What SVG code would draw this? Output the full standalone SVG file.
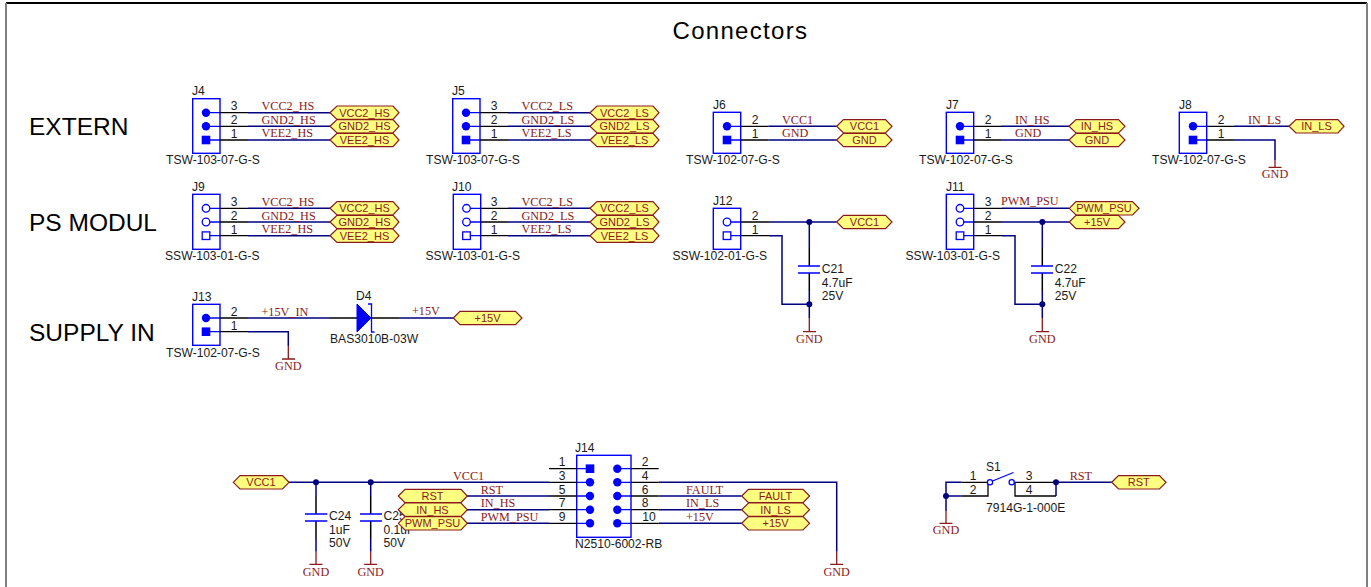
<svg xmlns="http://www.w3.org/2000/svg" width="1371" height="587" viewBox="0 0 1371 587">
<style>
text{font-family:"Liberation Sans",Arial,sans-serif;font-size:12.1px;fill:#1a1a1a}
.h{font-size:24.5px;fill:#000}
.t{font-size:24px;fill:#000;letter-spacing:1.3px}
.n{font-family:"Liberation Serif","Times New Roman",serif;font-size:12.2px;fill:#8b1a1a}
.p{font-size:11px;fill:#8b1a1a;text-anchor:middle}
.c{text-anchor:middle}
.box{fill:#fff;stroke:#0000ff;stroke-width:1.4}
.w,.wires path{fill:none;stroke:#000080;stroke-width:1.5}
.k{fill:none;stroke:#000;stroke-width:1.3}
.b{fill:none;stroke:#0000ff;stroke-width:1.3}
.r{fill:none;stroke:#8b1a1a;stroke-width:1.3}
.pf{fill:#0000ff}
.po{fill:#fff;stroke:#0000ff;stroke-width:1.3}
.port polygon{fill:#ffff80;stroke:#8b1a1a;stroke-width:1.2}
.j{fill:#000080}
.frame{fill:none;stroke-width:2}
</style>
<g id="frame">
<path class="frame" stroke="#000" d="M6 3H1367"/>
<path class="frame" stroke="#808080" d="M6 3V587M1367 3V587"/>
</g>
<g id="titles">
<text class="t" x="672.5" y="39">Connectors</text>
<text class="h" x="29" y="135">EXTERN</text>
<text class="h" x="29" y="231">PS MODUL</text>
<text class="h" x="29" y="341">SUPPLY IN</text>
</g>

<g class="wires" id="connectors">
<path d="M248 112.7H330M248 126.3H330M248 140H330"/>
<path d="M508 112.7H590M508 126.3H590M508 140H590"/>
<path d="M768.3 126.3H836.7M768.3 140H836.7"/>
<path d="M1001 126.3H1069M1001 140H1069"/>
<path d="M1234 126.3H1289M1234 140H1275V160"/>
<path d="M248 208.3H330M248 222H330M248 235.7H330"/>
<path d="M508 208.3H590M508 222H590M508 235.7H590"/>
<path d="M769 222H836.7M769 235.7H782V304.3H809.3M809.3 222V248M809.3 291V318"/>
<path d="M1002 208.3H1069M1002 222H1069M1002 235.7H1015V304.3H1042.3M1042.3 222V248M1042.3 291V318"/>
<path d="M248 318H329M248 331.7H288.3V346M399 318H453.3"/>
<path d="M289 482.3H549M316 482.3V496M316 539V551.7M370.7 482.3V496M370.7 539V551.7"/>
<path d="M467 496H549M467 509.7H549M467 523.3H549"/>
<path d="M658.7 482.3H836.7V551.7M658.7 496H741.7M658.7 509.7H741.7M658.7 523.3H741.7"/>
<path d="M961.7 482.3H946V511M961.7 496H946"/>
<path d="M1056 482.3H1111.7M1056 482.3V496"/>
<path d="M329 318H357M371 318H399" style="stroke:#000"/>
<path d="M809.3 248V266M809.3 273V291M1042.3 248V266M1042.3 273V291" style="stroke:#000"/>
<path d="M316 496V514M316 521V539M370.7 496V514M370.7 521V539" style="stroke:#000"/>
</g>

<g id="J4">
<rect class="box" x="192.7" y="98.7" width="27.3" height="54.6"/>
<path class="b" d="M206 112.7H220M206 126.3H220M206 140H220"/>
<path class="k" d="M220 112.7H248M220 126.3H248M220 140H248"/>
<circle class="pf" cx="206" cy="112.7" r="4.2"/><circle class="pf" cx="206" cy="126.3" r="4.2"/><rect class="pf" x="201.7" y="135.7" width="8.6" height="8.6"/>
<text x="192" y="95">J4</text><text x="166" y="164">TSW-103-07-G-S</text>
<text class="c" x="234" y="110">3</text><text class="c" x="234" y="124">2</text><text class="c" x="234" y="138">1</text>
<text class="n" x="261.5" y="110">VCC2_HS</text><text class="n" x="261.5" y="124">GND2_HS</text><text class="n" x="261.5" y="137">VEE2_HS</text>
</g>
<g id="J5">
<rect class="box" x="452.7" y="98.7" width="27.3" height="54.6"/>
<path class="b" d="M466 112.7H480M466 126.3H480M466 140H480"/>
<path class="k" d="M480 112.7H508M480 126.3H508M480 140H508"/>
<circle class="pf" cx="466" cy="112.7" r="4.2"/><circle class="pf" cx="466" cy="126.3" r="4.2"/><rect class="pf" x="461.7" y="135.7" width="8.6" height="8.6"/>
<text x="452" y="95">J5</text><text x="426" y="164">TSW-103-07-G-S</text>
<text class="c" x="494" y="110">3</text><text class="c" x="494" y="124">2</text><text class="c" x="494" y="138">1</text>
<text class="n" x="521.5" y="110">VCC2_LS</text><text class="n" x="521.5" y="124">GND2_LS</text><text class="n" x="521.5" y="137">VEE2_LS</text>
</g>
<g id="J6">
<rect class="box" x="713.3" y="112.3" width="27.4" height="41"/>
<path class="b" d="M727 126.3H740.7M727 140H740.7"/>
<path class="k" d="M740.7 126.3H768.3M740.7 140H768.3"/>
<circle class="pf" cx="727" cy="126.3" r="4.2"/><rect class="pf" x="722.7" y="135.7" width="8.6" height="8.6"/>
<text x="713" y="109">J6</text><text x="686" y="164">TSW-102-07-G-S</text>
<text class="c" x="755" y="124">2</text><text class="c" x="755" y="138">1</text>
<text class="n" x="782" y="124">VCC1</text><text class="n" x="782" y="137">GND</text>
</g>
<g id="J7">
<rect class="box" x="946.3" y="112.3" width="27.4" height="41"/>
<path class="b" d="M960 126.3H973.7M960 140H973.7"/>
<path class="k" d="M973.7 126.3H1001M973.7 140H1001"/>
<circle class="pf" cx="960" cy="126.3" r="4.2"/><rect class="pf" x="955.7" y="135.7" width="8.6" height="8.6"/>
<text x="946" y="109">J7</text><text x="919" y="164">TSW-102-07-G-S</text>
<text class="c" x="988" y="124">2</text><text class="c" x="988" y="138">1</text>
<text class="n" x="1015" y="124">IN_HS</text><text class="n" x="1015" y="137">GND</text>
</g>
<g id="J8">
<rect class="box" x="1179.3" y="112.3" width="27.4" height="41"/>
<path class="b" d="M1193 126.3H1206.7M1193 140H1206.7"/>
<path class="k" d="M1206.7 126.3H1234M1206.7 140H1234"/>
<circle class="pf" cx="1193" cy="126.3" r="4.2"/><rect class="pf" x="1188.7" y="135.7" width="8.6" height="8.6"/>
<text x="1179" y="109">J8</text><text x="1152" y="164">TSW-102-07-G-S</text>
<text class="c" x="1221" y="124">2</text><text class="c" x="1221" y="138">1</text>
<text class="n" x="1248" y="124">IN_LS</text>
</g>
<g id="J9">
<rect class="box" x="192.7" y="194.3" width="27.3" height="55"/>
<path class="b" d="M210 208.3H220M210 222H220M210 235.7H220"/>
<path class="k" d="M220 208.3H248M220 222H248M220 235.7H248"/>
<circle class="po" cx="206" cy="208.3" r="3.8"/><circle class="po" cx="206" cy="222" r="3.8"/><rect class="po" x="202.2" y="231.9" width="7.6" height="7.6"/>
<text x="192" y="191">J9</text><text x="165" y="260">SSW-103-01-G-S</text>
<text class="c" x="234" y="206">3</text><text class="c" x="234" y="220">2</text><text class="c" x="234" y="234">1</text>
<text class="n" x="261.5" y="206">VCC2_HS</text><text class="n" x="261.5" y="220">GND2_HS</text><text class="n" x="261.5" y="233">VEE2_HS</text>
</g>
<g id="J10">
<rect class="box" x="453.3" y="194.3" width="27.4" height="55"/>
<path class="b" d="M470 208.3H480.7M470 222H480.7M470 235.7H480.7"/>
<path class="k" d="M480.7 208.3H508M480.7 222H508M480.7 235.7H508"/>
<circle class="po" cx="466.5" cy="208.3" r="3.8"/><circle class="po" cx="466.5" cy="222" r="3.8"/><rect class="po" x="462.7" y="231.9" width="7.6" height="7.6"/>
<text x="452" y="191">J10</text><text x="425.5" y="260">SSW-103-01-G-S</text>
<text class="c" x="494" y="206">3</text><text class="c" x="494" y="220">2</text><text class="c" x="494" y="234">1</text>
<text class="n" x="521.5" y="206">VCC2_LS</text><text class="n" x="521.5" y="220">GND2_LS</text><text class="n" x="521.5" y="233">VEE2_LS</text>
</g>
<g id="J12">
<rect class="box" x="713.3" y="208.3" width="27.4" height="41"/>
<path class="b" d="M731 222H740.7M731 235.7H740.7"/>
<path class="k" d="M740.7 222H769M740.7 235.7H769"/>
<circle class="po" cx="727" cy="222" r="3.8"/><rect class="po" x="723.2" y="231.9" width="7.6" height="7.6"/>
<text x="713" y="205">J12</text><text x="672.5" y="260">SSW-102-01-G-S</text>
<text class="c" x="755" y="220">2</text><text class="c" x="755" y="234">1</text>
</g>
<g id="J11">
<rect class="box" x="946.3" y="194.3" width="27.4" height="55"/>
<path class="b" d="M964 208.3H973.7M964 222H973.7M964 235.7H973.7"/>
<path class="k" d="M973.7 208.3H1002M973.7 222H1002M973.7 235.7H1002"/>
<circle class="po" cx="960" cy="208.3" r="3.8"/><circle class="po" cx="960" cy="222" r="3.8"/><rect class="po" x="956.2" y="231.9" width="7.6" height="7.6"/>
<text x="946" y="191">J11</text><text x="905.5" y="260">SSW-103-01-G-S</text>
<text class="c" x="988" y="206">3</text><text class="c" x="988" y="220">2</text><text class="c" x="988" y="234">1</text>
<text class="n" x="1001" y="205">PWM_PSU</text>
</g>
<g id="J13">
<rect class="box" x="192.7" y="304.3" width="27.3" height="41"/>
<path class="b" d="M206 318H220M206 331.7H220"/>
<path class="k" d="M220 318H248M220 331.7H248"/>
<circle class="pf" cx="206" cy="318" r="4.2"/><rect class="pf" x="201.7" y="327.4" width="8.6" height="8.6"/>
<text x="192" y="301">J13</text><text x="166" y="357">TSW-102-07-G-S</text>
<text class="c" x="234" y="316">2</text><text class="c" x="234" y="330">1</text>
<text class="n" x="261.5" y="316">+15V_IN</text>
</g>
<g id="D4">
<polygon points="357,304 371,318 357,332" fill="#0000ff" stroke="#0000ff"/>
<path class="b" d="M368 304H371.5V332H374.5"/>
<text x="356" y="300">D4</text><text x="330" y="343">BAS3010B-03W</text>
<text class="n" x="412" y="315">+15V</text>
</g>
<g id="C21">
<path d="M798 266H820M798 273H820" fill="none" stroke="#0000ff" stroke-width="1.5"/>
<text x="821.7" y="273">C21</text><text x="821.7" y="286.5">4.7uF</text><text x="821.7" y="299.5">25V</text>
</g>
<g id="C22">
<path d="M1031 266H1053M1031 273H1053" fill="none" stroke="#0000ff" stroke-width="1.5"/>
<text x="1054.7" y="273">C22</text><text x="1054.7" y="286.5">4.7uF</text><text x="1054.7" y="299.5">25V</text>
</g>
<g id="C24">
<path d="M305 514H327.3M305 521H327.3" fill="none" stroke="#0000ff" stroke-width="1.5"/>
<text x="329" y="520">C24</text><text x="329" y="533.5">1uF</text><text x="329" y="547">50V</text>
</g>
<g id="C25">
<path d="M360 514H382M360 521H382" fill="none" stroke="#0000ff" stroke-width="1.5"/>
<text x="383.5" y="520">C25</text><text x="383.5" y="533.5">0.1uF</text><text x="383.5" y="547">50V</text>
</g>
<g id="J14">
<rect class="box" x="576.7" y="455.3" width="54.3" height="82"/>
<path class="b" d="M590 468.7H576.7M590 482.3H576.7M590 496H576.7M590 509.7H576.7M590 523.3H576.7M617.3 468.7H631M617.3 482.3H631M617.3 496H631M617.3 509.7H631M617.3 523.3H631"/>
<path class="k" d="M549 468.7H576.7M549 482.3H576.7M549 496H576.7M549 509.7H576.7M549 523.3H576.7M631 468.7H658.7M631 482.3H658.7M631 496H658.7M631 509.7H658.7M631 523.3H658.7"/>
<rect class="pf" x="585.7" y="464.4" width="8.6" height="8.6"/>
<circle class="pf" cx="590" cy="482.3" r="4.2"/><circle class="pf" cx="590" cy="496" r="4.2"/><circle class="pf" cx="590" cy="509.7" r="4.2"/><circle class="pf" cx="590" cy="523.3" r="4.2"/>
<circle class="pf" cx="617.3" cy="468.7" r="4.2"/><circle class="pf" cx="617.3" cy="482.3" r="4.2"/><circle class="pf" cx="617.3" cy="496" r="4.2"/><circle class="pf" cx="617.3" cy="509.7" r="4.2"/><circle class="pf" cx="617.3" cy="523.3" r="4.2"/>
<text x="575" y="452">J14</text><text x="575" y="548">N2510-6002-RB</text>
<text class="c" x="562" y="466">1</text><text class="c" x="562" y="480">3</text><text class="c" x="562" y="493.5">5</text><text class="c" x="562" y="507">7</text><text class="c" x="562" y="520.5">9</text>
<text class="c" x="645" y="466">2</text><text class="c" x="645" y="480">4</text><text class="c" x="645" y="493.5">6</text><text class="c" x="645" y="507">8</text><text class="c" x="649" y="520.5">10</text>
</g>
<g id="S1">
<path class="k" d="M961.7 482.3H987M961.7 496H988V482.3M1015 482.3V496H1056M1015 482.3H1056"/>
<path class="b" d="M992.5 481L1013.5 472.5"/>
<circle class="po" cx="990" cy="482.3" r="2.6"/><circle class="po" cx="1011.7" cy="482.3" r="2.6"/>
<text x="986" y="471">S1</text><text x="986" y="512">7914G-1-000E</text>
<text class="c" x="973" y="480">1</text><text class="c" x="973" y="494">2</text><text class="c" x="1029" y="480">3</text><text class="c" x="1029" y="494">4</text>
</g>
<g id="net-labels">
<text class="n" x="453" y="480">VCC1</text>
<text class="n" x="480.7" y="494">RST</text><text class="n" x="480.7" y="507">IN_HS</text><text class="n" x="480.7" y="521">PWM_PSU</text>
<text class="n" x="686" y="494">FAULT</text><text class="n" x="686" y="507">IN_LS</text><text class="n" x="686" y="521">+15V</text>
<text class="n" x="1069.7" y="480">RST</text>
</g>
<g id="junctions">
<circle class="j" cx="809.3" cy="222" r="3"/><circle class="j" cx="809.3" cy="304.3" r="3"/>
<circle class="j" cx="1042.3" cy="222" r="3"/><circle class="j" cx="1042.3" cy="304.3" r="3"/>
<circle class="j" cx="316" cy="482.3" r="3"/><circle class="j" cx="370.7" cy="482.3" r="3"/>
<circle class="j" cx="946" cy="496" r="3"/><circle class="j" cx="1056" cy="482.3" r="3"/>
</g>
<g id="gnd">
<g id="gnd-J8"><path class="r" d="M1275 160V167.3M1268.5 167.3H1281.5"/><text class="n c" x="1275" y="178">GND</text></g>
<g id="gnd-J13"><path class="r" d="M288.3 346V359M282 359H295"/><text class="n c" x="288.3" y="370">GND</text></g>
<g id="gnd-C21"><path class="r" d="M809.3 318V331.7M803 331.7H816"/><text class="n c" x="809.3" y="342.5">GND</text></g>
<g id="gnd-C22"><path class="r" d="M1042.3 318V331.7M1036 331.7H1049"/><text class="n c" x="1042.3" y="342.5">GND</text></g>
<g id="gnd-C24"><path class="r" d="M316 551.7V564.3M309.5 564.3H322.5"/><text class="n c" x="316" y="576">GND</text></g>
<g id="gnd-C25"><path class="r" d="M370.7 551.7V564.3M364.2 564.3H377.2"/><text class="n c" x="370.7" y="576">GND</text></g>
<g id="gnd-J14"><path class="r" d="M836.7 551.7V564.3M830.2 564.3H843.2"/><text class="n c" x="836.7" y="576">GND</text></g>
<g id="gnd-S1"><path class="r" d="M946 511V523.3M939.5 523.3H952.5"/><text class="n c" x="946" y="534">GND</text></g>
</g>
<g id="ports">
<g class="port" id="p1"><polygon points="330,112.7 337,106 393,106 399,112.7 393,119.4 337,119.4"/><text class="p" x="364.5" y="116.7">VCC2_HS</text></g>
<g class="port" id="p2"><polygon points="330,126.3 337,119.6 393,119.6 399,126.3 393,133 337,133"/><text class="p" x="364.5" y="130.3">GND2_HS</text></g>
<g class="port" id="p3"><polygon points="330,140 337,133.3 393,133.3 399,140 393,146.7 337,146.7"/><text class="p" x="364.5" y="144">VEE2_HS</text></g>
<g class="port" id="p4"><polygon points="590,112.7 597,106 653,106 659,112.7 653,119.4 597,119.4"/><text class="p" x="624.5" y="116.7">VCC2_LS</text></g>
<g class="port" id="p5"><polygon points="590,126.3 597,119.6 653,119.6 659,126.3 653,133 597,133"/><text class="p" x="624.5" y="130.3">GND2_LS</text></g>
<g class="port" id="p6"><polygon points="590,140 597,133.3 653,133.3 659,140 653,146.7 597,146.7"/><text class="p" x="624.5" y="144">VEE2_LS</text></g>
<g class="port" id="p7"><polygon points="836.7,126.3 843.5,119.6 885.5,119.6 892,126.3 885.5,133 843.5,133"/><text class="p" x="864.5" y="130.3">VCC1</text></g>
<g class="port" id="p8"><polygon points="836.7,140 843.5,133.3 885.5,133.3 892,140 885.5,146.7 843.5,146.7"/><text class="p" x="864.5" y="144">GND</text></g>
<g class="port" id="p9"><polygon points="1069,126.3 1076,119.6 1118.5,119.6 1125,126.3 1118.5,133 1076,133"/><text class="p" x="1097" y="130.3">IN_HS</text></g>
<g class="port" id="p10"><polygon points="1069,140 1076,133.3 1118.5,133.3 1125,140 1118.5,146.7 1076,146.7"/><text class="p" x="1097" y="144">GND</text></g>
<g class="port" id="p11"><polygon points="1289,126.3 1296,119.6 1338,119.6 1344,126.3 1338,133 1296,133"/><text class="p" x="1316.5" y="130.3">IN_LS</text></g>
<g class="port" id="p12"><polygon points="330,208.3 337,201.6 393,201.6 399,208.3 393,215 337,215"/><text class="p" x="364.5" y="212.3">VCC2_HS</text></g>
<g class="port" id="p13"><polygon points="330,222 337,215.3 393,215.3 399,222 393,228.7 337,228.7"/><text class="p" x="364.5" y="226">GND2_HS</text></g>
<g class="port" id="p14"><polygon points="330,235.7 337,229 393,229 399,235.7 393,242.4 337,242.4"/><text class="p" x="364.5" y="239.7">VEE2_HS</text></g>
<g class="port" id="p15"><polygon points="590,208.3 597,201.6 653,201.6 659,208.3 653,215 597,215"/><text class="p" x="624.5" y="212.3">VCC2_LS</text></g>
<g class="port" id="p16"><polygon points="590,222 597,215.3 653,215.3 659,222 653,228.7 597,228.7"/><text class="p" x="624.5" y="226">GND2_LS</text></g>
<g class="port" id="p17"><polygon points="590,235.7 597,229 653,229 659,235.7 653,242.4 597,242.4"/><text class="p" x="624.5" y="239.7">VEE2_LS</text></g>
<g class="port" id="p18"><polygon points="836.7,222 843.5,215.3 885.5,215.3 892,222 885.5,228.7 843.5,228.7"/><text class="p" x="864.5" y="226">VCC1</text></g>
<g class="port" id="p19"><polygon points="1069.3,208.3 1076,201.6 1132.5,201.6 1139,208.3 1132.5,215 1076,215"/><text class="p" x="1104" y="212.3">PWM_PSU</text></g>
<g class="port" id="p20"><polygon points="1069.3,222 1076,215.3 1118.5,215.3 1125,222 1118.5,228.7 1076,228.7"/><text class="p" x="1097" y="226">+15V</text></g>
<g class="port" id="p21"><polygon points="453.3,318 460,311.3 515.5,311.3 522,318 515.5,324.7 460,324.7"/><text class="p" x="487.5" y="322">+15V</text></g>
<g class="port" id="p22"><polygon points="233.3,482.3 240,475.6 282.5,475.6 289,482.3 282.5,489 240,489"/><text class="p" x="261" y="486.3">VCC1</text></g>
<g class="port" id="p23"><polygon points="398.3,496 405,489.3 461,489.3 467.3,496 461,502.7 405,502.7"/><text class="p" x="432.5" y="500">RST</text></g>
<g class="port" id="p24"><polygon points="398.3,509.7 405,503 461,503 467.3,509.7 461,516.4 405,516.4"/><text class="p" x="432.5" y="513.7">IN_HS</text></g>
<g class="port" id="p25"><polygon points="398.3,523.3 405,516.6 461,516.6 467.3,523.3 461,530 405,530"/><text class="p" x="432.5" y="527.3">PWM_PSU</text></g>
<g class="port" id="p26"><polygon points="741.7,496 748.5,489.3 803,489.3 809.5,496 803,502.7 748.5,502.7"/><text class="p" x="775.5" y="500">FAULT</text></g>
<g class="port" id="p27"><polygon points="741.7,509.7 748.5,503 803,503 809.5,509.7 803,516.4 748.5,516.4"/><text class="p" x="775.5" y="513.7">IN_LS</text></g>
<g class="port" id="p28"><polygon points="741.7,523.3 748.5,516.6 803,516.6 809.5,523.3 803,530 748.5,530"/><text class="p" x="775.5" y="527.3">+15V</text></g>
<g class="port" id="p29"><polygon points="1111.7,482.3 1118.5,475.6 1159.5,475.6 1166,482.3 1159.5,489 1118.5,489"/><text class="p" x="1138.8" y="486.3">RST</text></g>
</g>
</svg>
